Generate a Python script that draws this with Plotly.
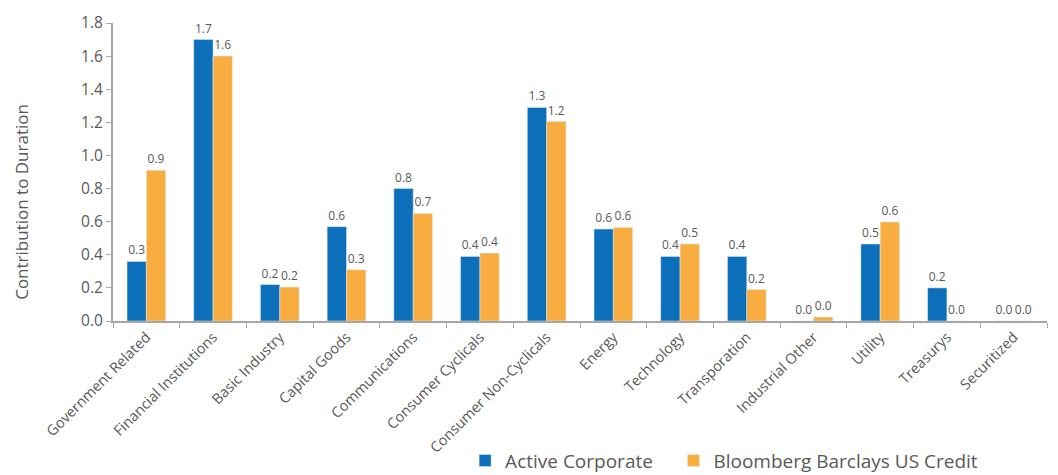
import plotly.graph_objects as go

categories = ["Government Related", "Financial Institutions", "Basic Industry", "Capital Goods",
              "Communications", "Consumer Cyclicals", "Consumer Non-Cyclicals", "Energy",
              "Technology", "Transporation", "Industrial Other", "Utility", "Treasurys", "Securitized"]
active = [0.36, 1.70, 0.22, 0.57, 0.80, 0.39, 1.29, 0.555, 0.39, 0.39, 0.0, 0.465, 0.20, 0.0]
bench = [0.91, 1.60, 0.205, 0.31, 0.65, 0.41, 1.205, 0.565, 0.465, 0.19, 0.024, 0.598, 0.0, 0.0]
active_labels = ["0.3", "1.7", "0.2", "0.6", "0.8", "0.4", "1.3", "0.6", "0.4", "0.4", "0.0", "0.5", "0.2", "0.0"]
bench_labels = ["0.9", "1.6", "0.2", "0.3", "0.7", "0.4", "1.2", "0.6", "0.5", "0.2", "0.0", "0.6", "0.0", "0.0"]
y_title = "Contribution to Duration"

FONT = "Open Sans"
GREY = "#595959"
AXIS = "#a6a6a6"

fig = go.Figure()
fig.add_trace(go.Bar(x=categories, y=active, name="Active Corporate", marker_color="#0b70b9",
                     text=active_labels, textposition="outside", cliponaxis=False,
                     textfont=dict(size=12, color=GREY, family=FONT), legend="legend"))
fig.add_trace(go.Bar(x=categories, y=bench, name="Bloomberg Barclays US Credit", marker_color="#f9ad41",
                     text=bench_labels, textposition="outside", cliponaxis=False,
                     textfont=dict(size=12, color=GREY, family=FONT), legend="legend2"))

legend_common = dict(orientation="h", xanchor="left", y=-0.405, yanchor="top",
                     font=dict(size=19, color=GREY, family=FONT), itemwidth=30,
                     bgcolor="rgba(0,0,0,0)")

fig.update_layout(
    width=1058, height=475,
    margin=dict(l=113, r=11, t=23, b=154, autoexpand=False),
    paper_bgcolor="white", plot_bgcolor="white",
    barmode="group", bargap=0.42, bargroupgap=0,
    font=dict(family=FONT, color=GREY),
    showlegend=True,
    legend=dict(x=0.377, **legend_common),
    legend2=dict(x=0.6, **legend_common),
    uniformtext=dict(mode=False),
    annotations=[dict(text=y_title, textangle=-90, xref="paper", yref="paper",
                      x=-0.0974, y=0.40, xanchor="center", yanchor="middle", showarrow=False,
                      font=dict(size=17, color=GREY, family=FONT))],
)
fig.update_xaxes(
    type="category", tickangle=-45, tickson="boundaries", ticks="outside", ticklen=5,
    tickcolor=AXIS, showline=True, linecolor=AXIS, linewidth=2, showgrid=False,
    tickfont=dict(size=14.5, color=GREY, family=FONT), automargin=False,
)
fig.update_yaxes(
    range=[0, 1.8], dtick=0.2, tickformat=".1f", ticks="outside", ticklen=5, tickcolor=AXIS,
    showline=True, linecolor=AXIS, linewidth=2, showgrid=False, zeroline=False,
    tickfont=dict(size=15.5, color=GREY, family=FONT), automargin=False,
)

fig.write_html("out.html")
